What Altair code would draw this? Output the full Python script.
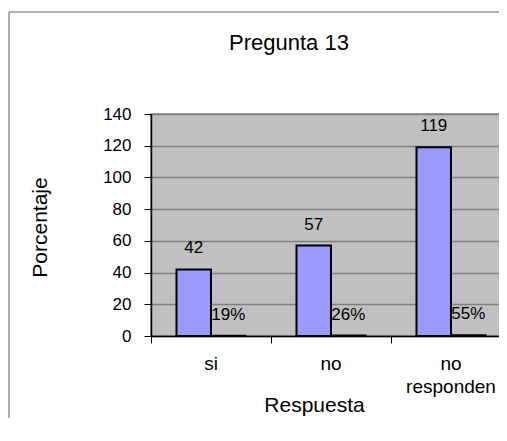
import altair as alt
import pandas as pd

categories = ["si", "no", "no responden"]
counts = [42, 57, 119]
percents = [0.19, 0.26, 0.55]
pct_labels = ["19%", "26%", "55%"]
series = ["Cantidad", "Porcentaje"]

rows = []
for c, n, p, pl in zip(categories, counts, percents, pct_labels):
    rows.append({"Respuesta": c, "serie": series[0], "valor": n, "etiqueta": str(n)})
    rows.append({"Respuesta": c, "serie": series[1], "valor": p, "etiqueta": pl})
df = pd.DataFrame(rows)

FONT = "Liberation Sans"

base = alt.Chart(df).encode(
    x=alt.X(
        "Respuesta:N",
        sort=categories,
        scale=alt.Scale(paddingInner=0, paddingOuter=0),
        title="Respuesta",
        axis=alt.Axis(
            labelAngle=0,
            bandPosition=0,
            labelExpr="split(datum.label, ' ')",
            labelLineHeight=23,
            labelFontSize=19,
            labelPadding=11,
            tickSize=7,
            grid=False,
            titleFontSize=21,
            titleX=163,
            titleY=75,
            titleAlign="center",
            titleBaseline="alphabetic",
        ),
    ),
    xOffset=alt.XOffset(
        "serie:N", sort=series, scale=alt.Scale(paddingInner=0, paddingOuter=0.739)
    ),
    y=alt.Y(
        "valor:Q",
        scale=alt.Scale(domain=[0, 140]),
        title="Porcentaje",
        axis=alt.Axis(
            values=list(range(0, 141, 20)),
            grid=True,
            gridColor="#808080",
            gridWidth=1.5,
            tickSize=7,
            labelPadding=13,
            labelFontSize=17,
            titleFontSize=21,
            titleAngle=-90,
            titleX=-105,
            titleY=113,
            titleAlign="center",
            titleBaseline="alphabetic",
        ),
    ),
)

bars = base.mark_bar(fill="#9999FF", stroke="black", strokeWidth=2)
labels = base.mark_text(
    dy=-16, baseline="alphabetic", align="center", fontSize=17, font=FONT, color="black"
).encode(text="etiqueta:N")

frame = alt.Chart(alt.Data(values=[{"k": 1}])).mark_rect(
    fill="white", fillOpacity=0, stroke="#606060", strokeWidth=1
).encode(
    x=alt.value(-142), x2=alt.value(800), y=alt.value(-102), y2=alt.value(800)
)

chart = (
    alt.layer(frame, bars, labels)
    .properties(
        width=360,
        height=222,
        title=alt.TitleParams(
            "Pregunta 13",
            anchor="middle",
            frame="group",
            dx=-42,
            offset=-60,
            baseline="alphabetic",
            fontSize=22,
            fontWeight="normal",
            font=FONT,
            color="black",
        ),
        padding={"left": 143, "top": 106, "right": -12, "bottom": 82},
        autosize=alt.AutoSizeParams(type="none"),
        background="white",
    )
    .configure_view(fill="#C0C0C0", stroke="#808080", strokeWidth=1.5)
    .configure_axis(
        domainColor="black",
        domainWidth=1.5,
        tickColor="black",
        tickWidth=1,
        labelColor="black",
        titleColor="black",
        labelFont=FONT,
        titleFont=FONT,
        titleFontWeight="normal",
    )
)

chart.save("out.html", embed_options={"renderer": "svg", "actions": False})
